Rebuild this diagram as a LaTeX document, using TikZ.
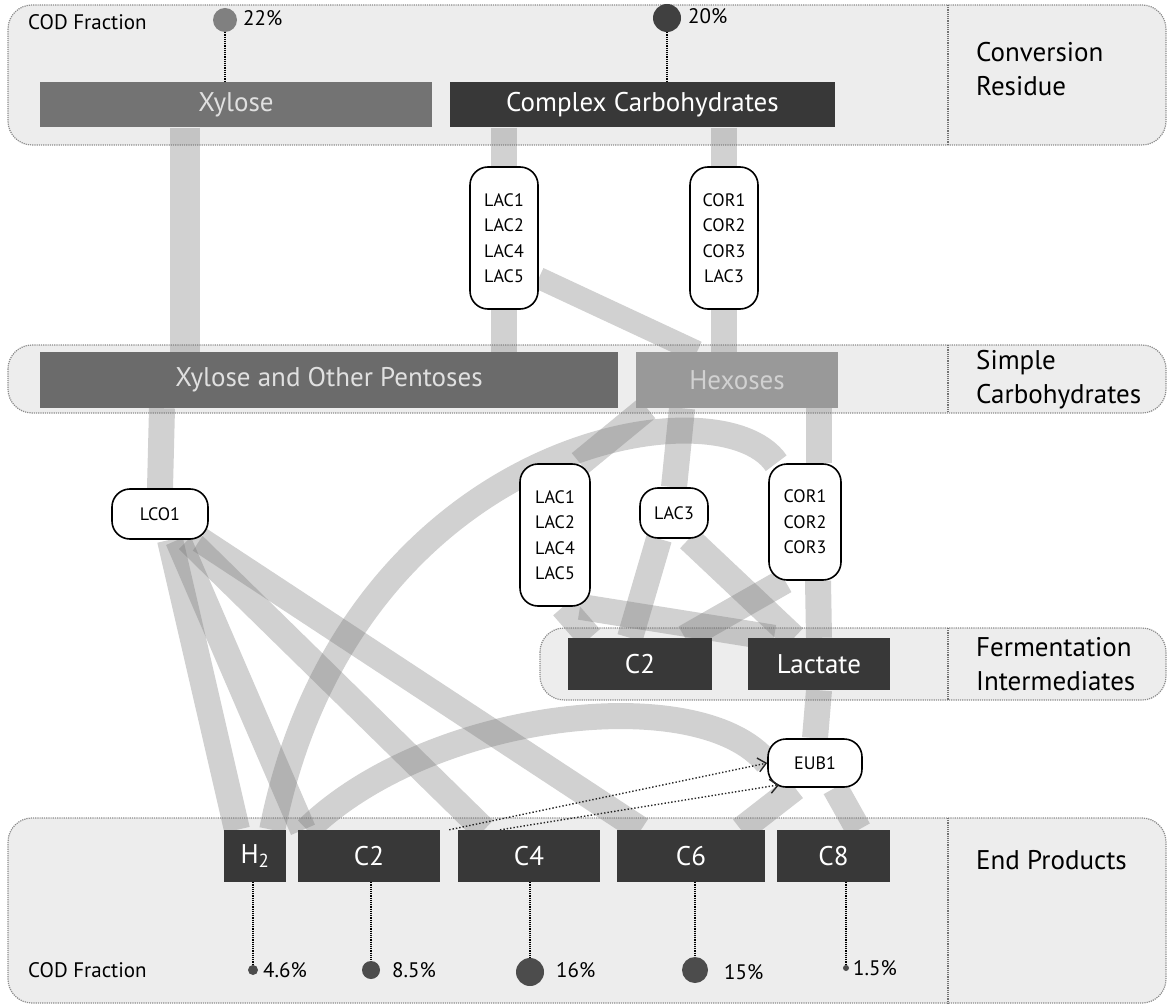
\documentclass[tikz,border=0pt]{standalone}
\usepackage{fontspec}
\setmainfont{PT Sans}
\usetikzlibrary{arrows.meta}
\pgfdeclarelayer{bands}
\pgfdeclarelayer{flows}
\pgfsetlayers{bands,flows,main}
\newcommand\barfont{\fontsize{27}{30}\selectfont}
\newcommand\orgfont{\fontsize{18}{25.5}\selectfont}
\newcommand\lblfont{\fontsize{27}{34}\selectfont}
\newcommand\codfont{\fontsize{21}{24}\selectfont}
\tikzset{
  bandbg/.style={fill=black!7, draw=black!45, densely dotted, line width=1.2, rounded corners=24},
  divline/.style={draw=black!55, densely dotted, line width=1.2},
  bar/.style={fill=#1, inner sep=0, text=white, font=\barfont},
  org/.style={draw=black, line width=1.6, fill=white, rounded corners=18, align=center, inner sep=0, font=\orgfont},
  flow/.style={draw=black!55, draw opacity=0.33, line width=#1},
  flow/.default=26,
  cod/.style={fill=#1, draw=none, circle, inner sep=0},
  stem/.style={draw=black, densely dotted, line width=1.2},
  lbl/.style={font=\lblfont, anchor=west, inner sep=0, align=left},
  codlbl/.style={font=\codfont, anchor=west, inner sep=0},
  dottedarrow/.style={draw=black!85, dotted, line width=1.4, -{Straight Barb[length=8,width=14]}},
}
\begin{document}
\begin{tikzpicture}[x=1pt,y=-1pt]
\useasboundingbox (0,0) rectangle (1170,1008);
% bars
\node[bar=black!55, minimum width=392, minimum height=45, text=black!12] (xyl) at (236,105) {Xylose};
\node[bar=black!78, minimum width=385, minimum height=45] (cc) at (642.5,105) {Complex Carbohydrates};
\node[bar=black!58, minimum width=578, minimum height=56, text=black!12] (pent) at (329,380) {Xylose and Other Pentoses};
\node[bar=black!40, minimum width=202, minimum height=56, text=black!18] (hex) at (737,380) {Hexoses};
\node[bar=black!78, minimum width=144, minimum height=52] (ic2) at (640,664) {C2};
\node[bar=black!78, minimum width=142, minimum height=52] (lact) at (819,664) {Lactate};
\node[bar=black!78, minimum width=62, minimum height=52] (h2) at (255,856) {H\textsubscript{2}};
\node[bar=black!78, minimum width=142, minimum height=52] (ec2) at (369,856) {C2};
\node[bar=black!78, minimum width=142, minimum height=52] (c4) at (529,856) {C4};
\node[bar=black!78, minimum width=148, minimum height=52] (c6) at (691,856) {C6};
\node[bar=black!78, minimum width=113, minimum height=52] (c8) at (833.5,856) {C8};
% organisms
\node[org, minimum width=96, minimum height=50] (lco) at (160,514) {LCO1};
\node[org, minimum width=68, minimum height=142] (ulac) at (504,238) {LAC1\\LAC2\\LAC4\\LAC5};
\node[org, minimum width=68, minimum height=142] (ucor) at (724,238) {COR1\\COR2\\COR3\\LAC3};
\node[org, minimum width=70, minimum height=142] (llac) at (555,535) {LAC1\\LAC2\\LAC4\\LAC5};
\node[org, minimum width=68, minimum height=50] (lac3) at (674,513) {LAC3};
\node[org, minimum width=72, minimum height=116] (lcor) at (805,522) {COR1\\COR2\\COR3};
\node[org, minimum width=94, minimum height=48] (eub) at (815,763) {EUB1};
% side labels
\node[lbl] (t1) at (976,69) {Conversion\\Residue};
\node[lbl] (t2) at (976,380) {Simple\\Carbohydrates};
\node[lbl] (t3) at (976,664) {Fermentation\\Intermediates};
\node[lbl] (t4) at (976,860) {End Products};
% COD fractions
\node[codlbl] (codtop) at (28,22) {COD Fraction};
\node[cod=black!50, minimum size=24] (p22) at (225,20) {};
\node[codlbl] (t22) at (243,18) {22\%};
\node[cod=black!75, minimum size=28] (p20) at (667,18) {};
\node[codlbl] (t20) at (688,16) {20\%};
\draw[stem] (p22) -- (p22 |- xyl.north);
\draw[stem] (p20) -- (p20 |- cc.north);
\node[codlbl] (codbot) at (28,970) {COD Fraction};
\node[cod=black!70, minimum size=10] (d1) at (253,970) {};
\node[codlbl] (l1) at (263,970) {4.6\%};
\node[cod=black!70, minimum size=18] (d2) at (371,970) {};
\node[codlbl] (l2) at (392,970) {8.5\%};
\node[cod=black!70, minimum size=28] (d3) at (530,972) {};
\node[codlbl] (l3) at (556,970) {16\%};
\node[cod=black!70, minimum size=26] (d4) at (695,970) {};
\node[codlbl] (l4) at (724,972) {15\%};
\node[cod=black!70, minimum size=6] (d5) at (846,968) {};
\node[codlbl] (l5) at (853,968) {1.5\%};
\draw[stem] (d1 |- h2.south) -- (d1);
\draw[stem] (d2 |- ec2.south) -- (d2);
\draw[stem] (d3 |- c4.south) -- (d3);
\draw[stem] (d4 |- c6.south) -- (d4);
\draw[stem] (d5 |- c8.south) -- (d5);
% dotted arrows
\draw[dottedarrow] ([xshift=9]ec2.north east) -- (eub.west);
\draw[dottedarrow] ([xshift=-29]c4.north) -- ([xshift=12,yshift=3]eub.south west);
% bands
\begin{pgfonlayer}{bands}
\draw[bandbg] (8,5) rectangle (1166,145);
\draw[divline] (948,5) -- (948,145);
\draw[bandbg] (8,345) rectangle (1166,413);
\draw[divline] (948,345) -- (948,413);
\draw[bandbg] (540,628) rectangle (1166,700);
\draw[divline] (948,628) -- (948,700);
\draw[bandbg] (8,818) rectangle (1166,1003);
\draw[divline] (948,818) -- (948,1003);
\end{pgfonlayer}
% flows
\begin{pgfonlayer}{flows}
\draw[flow=30] ([xshift=-51]xyl.south) -- ([xshift=-144]pent.north);
\draw[flow] ([xshift=-138.5]cc.south) -- (ulac.north);
\draw[flow] ([xshift=81.5]cc.south) -- (ucor.north);
\draw[flow] (ulac.south) -- ([xshift=175]pent.north);
\draw[flow=22] ([yshift=-40]ulac.east) -- ([xshift=-40]hex.north);
\draw[flow] (ucor.south) -- ([xshift=-13]hex.north);
\draw[flow] ([xshift=-167]pent.south) -- (lco.north);
\draw[flow] ([xshift=82]hex.south) -- ([xshift=14]lcor.north);
\draw[flow] ([xshift=-55]hex.south) -- (lac3.north);
\draw[flow] ([xshift=-90]hex.south) -- ([xshift=25]llac.north);
\draw[flow] ([xshift=8]llac.south) -- ([xshift=-50]ic2.north);
\draw[flow] ([xshift=25]llac.south) -- ([xshift=-45]lact.north);
\draw[flow] ([xshift=-15]lac3.south) -- ([xshift=-10]ic2.north);
\draw[flow] ([xshift=15]lac3.south) -- ([xshift=-25]lact.north);
\draw[flow] ([xshift=13]lcor.south) -- (lact.north);
\draw[flow] ([xshift=-20]lcor.south) -- ([xshift=45]ic2.north);
\draw[flow] ([xshift=10]lco.south) -- ([xshift=-18]h2.north);
\draw[flow] ([xshift=18]lco.south) -- ([xshift=-66]ec2.north);
\draw[flow] ([xshift=28]lco.south) -- ([xshift=-45]c4.north);
\draw[flow] ([xshift=40]lco.south) -- ([xshift=-50]c6.north);
\draw[flow] ([xshift=8]lcor.north west) .. controls (720,380) and (350,440) .. ([xshift=-14]h2.north east);
\draw[flow] ([xshift=-62]ec2.north) .. controls (430,710) and (700,680) .. (eub.west);
\draw[flow] (lact.south) -- (eub.north);
\draw[flow] ([xshift=-20]eub.south) -- ([xshift=50]c6.north);
\draw[flow] ([xshift=20]eub.south) -- ([xshift=25]c8.north);
\end{pgfonlayer}
\end{tikzpicture}
\end{document}
